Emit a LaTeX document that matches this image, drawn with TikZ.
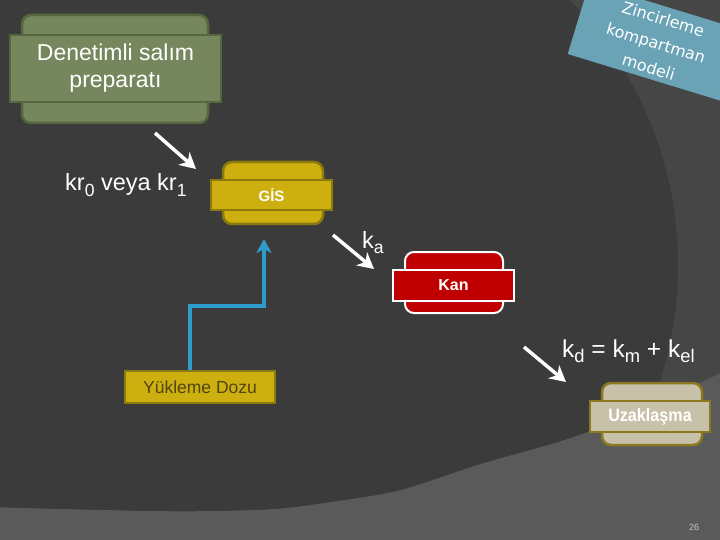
\documentclass[tikz,border=0pt]{standalone}
\usepackage{fontspec}
\usepackage{graphicx}
\setmainfont{Liberation Sans}
\newfontfamily\dejavu{DejaVu Sans}
\usetikzlibrary{arrows.meta}
\definecolor{bgdark}{HTML}{3B3B3B}
\definecolor{bgarc}{HTML}{464646}
\definecolor{bglow}{HTML}{5A5A5A}
\definecolor{olivefill}{HTML}{76875E}
\definecolor{olivedraw}{HTML}{56663F}
\definecolor{goldfill}{HTML}{CDAF10}
\definecolor{golddraw}{HTML}{8B7B0E}
\definecolor{goldtext}{HTML}{4F4612}
\definecolor{kanfill}{HTML}{C00000}
\definecolor{beigefill}{HTML}{C8C1AA}
\definecolor{beigedraw}{HTML}{8C7820}
\definecolor{tealfill}{HTML}{6AA3B6}
\definecolor{bluearrow}{HTML}{2E9CCA}
\newcommand\lowsub[1]{\raisebox{-0.45ex}{\scalebox{0.75}{#1}}}
\tikzset{
  backbox/.style={rounded corners=9pt, line width=2.5pt, inner sep=0pt},
  frontbox/.style={line width=2.5pt, inner sep=0pt, align=center, text=white},
  whitearrow/.style={draw=white, line width=3.5pt, -{Stealth[length=16pt,width=17pt,inset=5pt]}},
  bluearr/.style={draw=bluearrow, line width=3.5pt, -{Stealth[length=14pt,width=15pt,inset=4pt]}},
  lbl/.style={text=white, inner sep=0pt, anchor=base west}
}
\begin{document}
\begin{tikzpicture}[x=1pt,y=-1pt]
\useasboundingbox (0,0) rectangle (720,540);
\clip (0,0) rectangle (720,540);
% background
\fill[bglow] (0,0) rectangle (720,540);
\begin{scope}
  \clip (-5,-5) -- plot[smooth] coordinates {(-5,507) (170,511) (270,509) (330,502) (400,490) (480,464) (587,432) (725,371)} -- (725,-5) -- cycle;
  \fill[bgarc] (-5,-5) rectangle (725,545);
  \fill[bgdark] (300,265) circle[radius=378];
  \fill[bgdark] (-5,-5) rectangle (300,545);
\end{scope}

% Zincirleme kompartman modeli
\node[fill=tealfill, rotate=-17, minimum width=160pt, minimum height=74pt, inner sep=0pt] (zkmb) at (655,42) {};
\node[rotate=-17, inner sep=0pt, text=white, align=center,
      font=\dejavu\fontsize{16}{25}\selectfont] (zkm) at (656,43) {Zincirleme\\kompartman\\modeli};

% Denetimli salım preparatı
\node[backbox, draw=olivedraw, fill=olivefill, minimum width=186pt, minimum height=108pt] (dsb) at (115,69) {};
\node[frontbox, draw=olivedraw, fill=olivefill, minimum width=211pt, minimum height=67pt,
      font=\fontsize{23}{27}\selectfont] (ds) at (115.5,68.5) {Denetimli salım\\preparatı};

% GİS
\node[backbox, draw=golddraw, fill=goldfill, minimum width=100pt, minimum height=62pt] (gisb) at (273,193) {};
\node[frontbox, draw=golddraw, fill=goldfill, minimum width=121pt, minimum height=30pt,
      font=\bfseries\fontsize{15}{17}\selectfont] (gis) at (271.5,195) {GİS};

% Kan
\node[backbox, draw=white, fill=kanfill, minimum width=98pt, minimum height=61pt, line width=2pt] (kanb) at (454,282.5) {};
\node[frontbox, draw=white, fill=kanfill, minimum width=121pt, minimum height=31pt, line width=2pt,
      font=\bfseries\fontsize{16}{18}\selectfont] (kan) at (453.5,285.5) {Kan};

% Uzaklaşma
\node[backbox, draw=beigedraw, fill=beigefill, minimum width=100pt, minimum height=62pt] (uzb) at (652,414) {};
\node[frontbox, draw=beigedraw, fill=beigefill, minimum width=120pt, minimum height=31pt,
      font=\bfseries\fontsize{17}{19}\selectfont] (uz) at (650,416.5) {\scalebox{0.95}[1.05]{Uzaklaşma}};

% Yükleme Dozu
\node[frontbox, draw=golddraw, fill=goldfill, minimum width=150pt, minimum height=32pt, text=goldtext,
      font=\fontsize{17.5}{19}\selectfont] (yd) at (200,387) {Yükleme Dozu};

% labels
\node[lbl, font=\fontsize{23.5}{26}\selectfont] (kr) at (65,191) {kr\lowsub{0} veya kr\lowsub{1}};
\node[lbl, font=\fontsize{23.5}{26}\selectfont] (ka) at (362,248) {k\lowsub{a}};
\node[lbl, font=\fontsize{24.5}{26}\selectfont] (kd) at (562,357) {k\lowsub{d} = k\lowsub{m} + k\lowsub{el}};

% arrow coordinates
\coordinate (a1s) at (155,133);
\coordinate (a1e) at (196,169);
\coordinate (a2s) at (333,235);
\coordinate (a2e) at (374,269);
\coordinate (a3s) at (524,347);
\coordinate (a3e) at (566,382);
\coordinate (bend1) at (190,306);
\coordinate (bend2) at (264,306);
\coordinate (bend3) at (264,239);

\draw[whitearrow] (a1s) -- (a1e);
\draw[whitearrow] (a2s) -- (a2e);
\draw[whitearrow] (a3s) -- (a3e);
\draw[bluearr] (yd.north -| bend1) -- (bend1) -- (bend2) -- (bend3);

% page number
\node[text=white!65!bglow, font=\fontsize{9}{10}\selectfont, inner sep=0pt] (pg) at (694,527) {26};
\end{tikzpicture}
\end{document}
